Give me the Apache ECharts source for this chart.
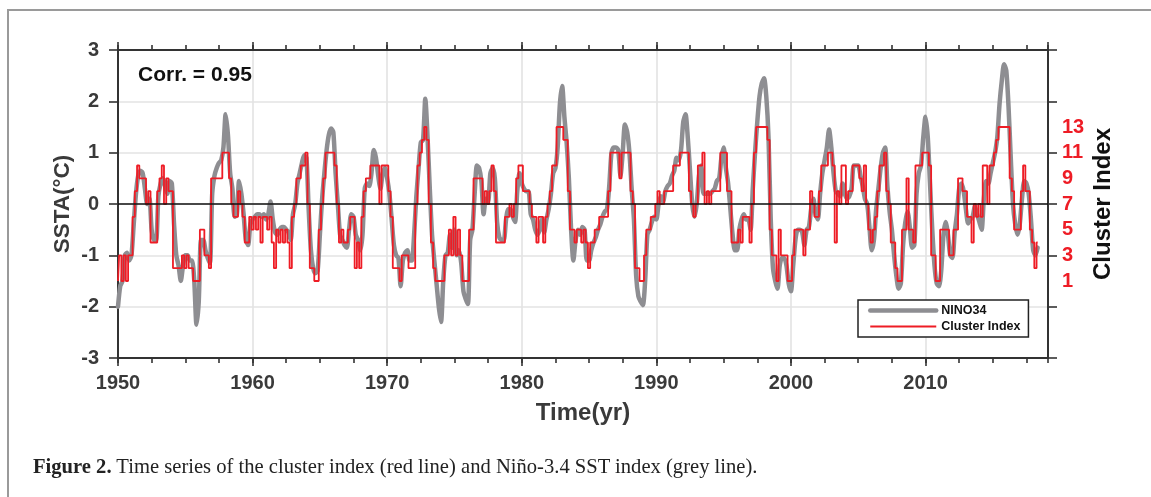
<!DOCTYPE html>
<html>
<head>
<meta charset="utf-8">
<script src="https://cdn.jsdelivr.net/npm/echarts@6/dist/echarts.min.js"></script>
<style>
  html, body { margin: 0; padding: 0; background: #fff; }
  #wrap { position: relative; width: 1151px; height: 497px; overflow: hidden; }
  #frame { position: absolute; left: 7px; top: 9px; width: 1160px; height: 500px;
           border-top: 2px solid #9a9a9a; border-left: 2px solid #9a9a9a; }
  #chart { position: absolute; left: 0; top: 0; width: 1151px; height: 497px; }
  #caption { position: absolute; left: 33px; top: 454px; font-family: "Liberation Serif", "DejaVu Serif", serif;
             font-size: 20.6px; line-height: 24px; color: #222; white-space: nowrap; }
</style>
</head>
<body>
<div id="wrap">
  <div id="frame"></div>
  <div id="chart"></div>
  <div id="caption"><b>Figure 2.</b> Time series of the cluster index (red line) and Niño-3.4 SST index (grey line).</div>
</div>
<script>
// bi-monthly samples, first one at Jan 1950
const startYear = 1950;
const stepYears = 1 / 6;

// NINO34 SST anomaly (degC), 6 values per year
const nino34 = [
  -2.0, -1.6, -1.5, -1.0, -0.95, -1.1,     // 1950
  -1.0, -0.4, 0.2, 0.55, 0.65, 0.6,
  0.3, 0.0, 0.1, -0.5, -0.7, -0.7,
  0.15, 0.4, 0.5, 0.35, 0.2, 0.45,
  0.4, -0.4, -1.0, -1.2, -1.5, -1.2,
  -1.0, -1.0, -1.1, -1.1, -1.5, -2.35,
  -1.9, -0.7, -0.7, -0.9, -1.05, -1.15,
  0.2, 0.55, 0.7, 0.8, 0.85, 1.1,
  1.75, 1.35, 0.6, 0.3, -0.25, -0.2,
  0.45, 0.2, -0.2, -0.7, -0.8, -0.4,
  -0.3, -0.25, -0.2, -0.2, -0.25, -0.2,    // 1960
  -0.3, -0.2, 0.05, -0.3, -0.55, -0.6,
  -0.5, -0.45, -0.45, -0.5, -0.55, -0.7,
  -0.2, 0.0, 0.4, 0.6, 0.8, 0.95,
  0.9, -0.1, -0.9, -1.25, -1.35, -1.3,
  -0.6, 0.1, 0.6, 1.05, 1.35, 1.47,
  1.4, 0.6, 0.0, -0.6, -0.7, -0.8,
  -0.85, -0.5, -0.2, -0.25, -0.6, -0.7,
  -0.9, -0.6, 0.3, 0.4, 0.35, 0.6,
  1.05, 0.9, 0.55, 0.3, 0.6, 0.7,
  0.5, 0.2, -0.3, -0.8, -1.0, -1.05,       // 1970
  -1.6, -1.1, -0.95, -0.9, -1.1, -1.1,
  -0.6, 0.15, 0.7, 1.2, 1.25, 2.05,
  1.3, 0.3, -0.6, -1.1, -1.55, -2.0,
  -2.3, -1.5, -1.0, -0.95, -0.6, -0.85,
  -0.5, -1.0, -0.9, -1.15, -1.7, -1.85,
  -1.95, -0.7, -0.5, 0.2, 0.75, 0.7,
  0.45, -0.2, 0.1, 0.05, 0.6, 0.7,
  0.5, -0.35, -0.65, -0.7, -0.7, -0.3,
  -0.1, -0.1, -0.25, -0.35, 0.25, 0.6,
  0.4, 0.3, 0.25, 0.25, -0.2, -0.3,        // 1980
  -0.5, -0.6, -0.5, -0.3, -0.55, -0.3,
  -0.1, 0.2, 0.6, 0.7, 1.1, 1.95,
  2.3, 1.7, 1.2, 0.5, -0.5, -1.1,
  -0.7, -0.5, -0.6, -0.45, -0.5, -1.1,
  -1.1, -0.9, -0.75, -0.65, -0.5, -0.4,
  -0.25, -0.15, -0.1, 0.35, 1.0, 1.1,
  1.1, 1.05, 0.55, 1.0, 1.55, 1.4,
  1.0, 0.3, -0.3, -1.4, -1.8, -1.9,
  -1.97, -1.5, -0.6, -0.5, -0.35, -0.25,
  -0.3, 0.0, 0.15, 0.05, 0.25, 0.35,       // 1990
  0.4, 0.55, 0.65, 0.9, 0.85, 1.05,
  1.6, 1.75, 1.3, 0.65, 0.0, -0.25,
  0.0, 0.55, 0.75, 0.2, 0.2, 0.2,
  0.2, 0.25, 0.3, 0.45, 0.5, 0.9,
  1.1, 0.7, 0.4, -0.1, -0.6, -0.9,
  -0.9, -0.5, -0.3, -0.2, -0.3, -0.3,
  -0.5, 0.3, 1.0, 1.6, 2.1, 2.35,
  2.45, 2.1, 1.3, -0.3, -1.25, -1.5,
  -1.65, -1.2, -1.05, -1.05, -1.2, -1.55,
  -1.7, -1.2, -0.7, -0.5, -0.5, -0.55,     // 2000
  -0.8, -0.5, -0.45, -0.1, 0.1, -0.2,
  -0.3, 0.2, 0.6, 0.85, 1.1, 1.45,
  1.1, 0.6, 0.25, 0.2, 0.15, 0.4,
  0.2, 0.1, 0.15, 0.3, 0.75, 0.75,
  0.75, 0.55, 0.35, 0.1, 0.0, -0.45,
  -0.9, -0.7, -0.1, 0.3, 0.7, 1.0,
  1.1, 0.35, -0.15, -0.5, -1.0, -1.4,
  -1.65, -1.55, -0.8, -0.35, -0.15, -0.45,
  -0.85, -0.8, 0.2, 0.6, 0.75, 1.3,
  1.7, 1.3, 0.4, -0.5, -1.2, -1.55,        // 2010
  -1.6, -1.3, -0.6, -0.35, -0.6, -1.0,
  -1.05, -0.55, -0.2, 0.3, 0.4, 0.25,
  -0.1, -0.38, -0.3, -0.25, -0.05, -0.2,
  -0.35, -0.5, 0.1, 0.45, 0.4, 0.6,
  0.8, 1.0, 1.3, 1.95, 2.4, 2.72,
  2.6, 1.9, 0.9, 0.0, -0.4, -0.6,
  -0.4, 0.1, 0.45, 0.4, 0.2, -0.3,
  -0.9, -1.0, -0.85                        // 2018
];

// cluster index (1..13), same sampling
const clusterIndex = [
  1, 3, 1, 3, 1, 3,        // 1950
  3, 6, 8, 10, 9, 9,
  9, 7, 8, 4, 4, 4,
  8, 9, 10, 7, 9, 8,
  8, 2, 2, 2, 2, 3,
  2, 3, 2, 2, 1, 1,
  1, 5, 5, 3, 3, 2,
  9, 9, 9, 9, 9, 11,
  11, 11, 9, 7, 6, 6,
  8, 7, 6, 4, 4, 6,
  5, 6, 5, 6, 4, 6,        // 1960
  6, 5, 6, 4, 2, 5,
  4, 5, 4, 5, 4, 2,
  6, 7, 9, 9, 10, 10,
  11, 7, 2, 2, 1, 1,
  5, 7, 9, 11, 11, 11,
  11, 10, 7, 4, 5, 4,
  4, 5, 6, 6, 2, 4,
  2, 6, 8, 9, 9, 10,
  10, 10, 10, 7, 10, 10,
  10, 8, 6, 2, 2, 2,       // 1970
  1, 3, 3, 3, 2, 2,
  2, 7, 10, 11, 12, 13,
  12, 7, 4, 2, 1, 1,
  1, 1, 3, 3, 5, 3,
  6, 3, 5, 3, 1, 1,
  1, 5, 5, 9, 9, 9,
  9, 7, 8, 7, 8, 10,
  8, 4, 4, 4, 4, 6,
  6, 7, 6, 7, 9, 10,
  10, 8, 8, 8, 7, 6,       // 1980
  6, 4, 6, 6, 4, 6,
  7, 8, 10, 10, 13, 13,
  13, 12, 12, 8, 5, 5,
  4, 5, 5, 4, 5, 4,
  2, 4, 4, 5, 5, 6,
  6, 6, 6, 8, 11, 11,
  11, 11, 9, 11, 11, 11,
  11, 8, 7, 2, 2, 1,
  1, 3, 5, 5, 6, 6,
  7, 8, 7, 7, 8, 8,        // 1990
  8, 8, 10, 10, 10, 11,
  11, 11, 11, 8, 7, 6,
  7, 10, 10, 11, 7, 8,
  7, 8, 8, 8, 8, 11,
  11, 11, 8, 8, 4, 4,
  4, 5, 4, 6, 6, 6,
  4, 7, 11, 13, 13, 13,
  13, 13, 12, 5, 3, 3,
  1, 5, 3, 3, 3, 1,
  1, 3, 5, 5, 5, 5,        // 2000
  3, 5, 5, 8, 7, 6,
  6, 8, 10, 10, 10, 11,
  11, 10, 4, 8, 7, 10,
  10, 7, 8, 8, 10, 10,
  10, 9, 8, 10, 7, 5,
  4, 5, 6, 8, 10, 10,
  11, 8, 7, 4, 4, 2,
  1, 1, 5, 5, 9, 5,
  5, 4, 10, 10, 10, 11,
  11, 11, 10, 3, 3, 1,     // 2010
  1, 5, 5, 5, 5, 3,
  3, 5, 5, 9, 9, 8,
  8, 6, 6, 4, 7, 6,
  7, 6, 10, 10, 7, 10,
  10, 11, 12, 13, 13, 13,
  13, 13, 9, 8, 5, 5,
  5, 8, 10, 8, 8, 5,
  4, 2, 4                  // 2018
];

const clusterTickLabels = [1, 3, 5, 7, 9, 11, 13];
const corrText = 'Corr. = 0.95';

const FONT = '"Liberation Sans", Arial, sans-serif';
const AXIS = '#333';
const GREY = '#8e8e92';
const RED = '#ee1c25';

const ninoData = nino34.map((v, i) => [startYear + i * stepYears, v]);
const clusterData = clusterIndex.map((v, i) => [startYear + i * stepYears, v]);

const chart = echarts.init(document.getElementById('chart'), null, { renderer: 'canvas' });

function xAxisBase(pos, interval, tickLen, extra) {
  return Object.assign({
    type: 'value', position: pos, min: 1950, max: 2019.1, interval: interval,
    axisLine: { show: false, onZero: false },
    axisTick: { show: true, inside: false, length: tickLen, lineStyle: { color: AXIS, width: 1.6 } },
    axisLabel: { show: false },
    splitLine: { show: false }
  }, extra || {});
}

const option = {
  animation: false,
  backgroundColor: 'transparent',
  grid: { left: 118, right: 103, top: 50, bottom: 139 },
  xAxis: [
    xAxisBase('bottom', 10, 8, {
      axisLine: { show: true, onZero: false, lineStyle: { color: AXIS, width: 2 } },
      axisLabel: {
        show: true, margin: 15, color: '#3a3a3a', fontFamily: FONT, fontWeight: 'bold', fontSize: 20,
        showMaxLabel: false,
        formatter: v => (Math.abs(v % 10) < 1e-6 ? String(v) : '')
      },
      splitLine: { show: true, lineStyle: { color: '#e3e3e3', width: 1.6 } },
      name: 'Time(yr)', nameLocation: 'middle', nameGap: 43,
      nameTextStyle: { color: '#3a3a3a', fontFamily: FONT, fontWeight: 'bold', fontSize: 24 }
    }),
    xAxisBase('bottom', 2.5, 5),
    xAxisBase('top', 10, 8, {
      axisLine: { show: true, onZero: false, lineStyle: { color: AXIS, width: 2 } }
    }),
    xAxisBase('top', 2.5, 5)
  ],
  yAxis: [
    {
      type: 'value', position: 'left', min: -3, max: 3, interval: 1,
      axisLine: { show: true, onZero: false, lineStyle: { color: AXIS, width: 2 } },
      axisTick: { show: true, length: 9, lineStyle: { color: AXIS, width: 1.6 } },
      axisLabel: { margin: 19, color: '#3a3a3a', fontFamily: FONT, fontWeight: 'bold', fontSize: 20 },
      splitLine: { show: true, lineStyle: { color: '#e3e3e3', width: 1.6 } },
      name: 'SSTA(°C)', nameLocation: 'middle', nameGap: 44, nameRotate: 90, nameMoveOverlap: false,
      nameTextStyle: { color: '#3a3a3a', fontFamily: FONT, fontWeight: 'bold', fontSize: 22.5 }
    },
    {
      type: 'value', position: 'right', min: -3, max: 3, interval: 1,
      axisLine: { show: true, onZero: false, lineStyle: { color: AXIS, width: 2 } },
      axisTick: { show: true, length: 9, lineStyle: { color: AXIS, width: 1.6 } },
      axisLabel: { show: false },
      splitLine: { show: false }
    },
    {
      type: 'value', position: 'right', min: -5, max: 19, interval: 2,
      axisLine: { show: false, onZero: false },
      axisTick: { show: false },
      axisLabel: {
        margin: 14, color: RED, fontFamily: FONT, fontWeight: 'bold', fontSize: 20,
        formatter: v => (clusterTickLabels.indexOf(v) >= 0 ? String(v) : '')
      },
      splitLine: { show: false },
      name: 'Cluster Index', nameLocation: 'middle', nameGap: 43, nameRotate: 90, nameMoveOverlap: false,
      nameTextStyle: { color: '#111', fontFamily: FONT, fontWeight: 'bold', fontSize: 24 }
    }
  ],
  legend: {
    orient: 'vertical', left: 858, top: 300,
    padding: [4, 8, 4, 10], itemGap: 3, itemWidth: 66, itemHeight: 12,
    backgroundColor: '#fff', borderColor: '#222', borderWidth: 1.5, borderRadius: 0,
    itemStyle: { opacity: 0 },
    textStyle: { color: '#111', fontFamily: FONT, fontWeight: 'bold', fontSize: 12.5 },
    data: [
      { name: 'NINO34', lineStyle: { color: GREY, width: 4.5 } },
      { name: 'Cluster Index', lineStyle: { color: RED, width: 1.8 } }
    ]
  },
  graphic: [{
    type: 'text', left: 138, top: 65, z: 50,
    style: { text: corrText, fill: '#111', font: 'bold 21px ' + FONT }
  }],
  series: [
    {
      name: 'NINO34', type: 'line', xAxisIndex: 0, yAxisIndex: 0,
      data: ninoData, symbol: 'none', smooth: 0.25, z: 3,
      lineStyle: { color: GREY, width: 4.5, cap: 'round', join: 'round' },
      itemStyle: { color: GREY }
    },
    {
      name: 'Cluster Index', type: 'line', xAxisIndex: 0, yAxisIndex: 2,
      data: clusterData, symbol: 'none', step: 'middle', z: 4,
      lineStyle: { color: RED, width: 1.8 },
      itemStyle: { color: RED },
      markLine: {
        silent: true, symbol: 'none', label: { show: false },
        lineStyle: { color: '#111', width: 1.5, type: 'solid' },
        data: [{ yAxis: 7 }]
      }
    }
  ]
};

chart.setOption(option);
</script>
</body>
</html>
